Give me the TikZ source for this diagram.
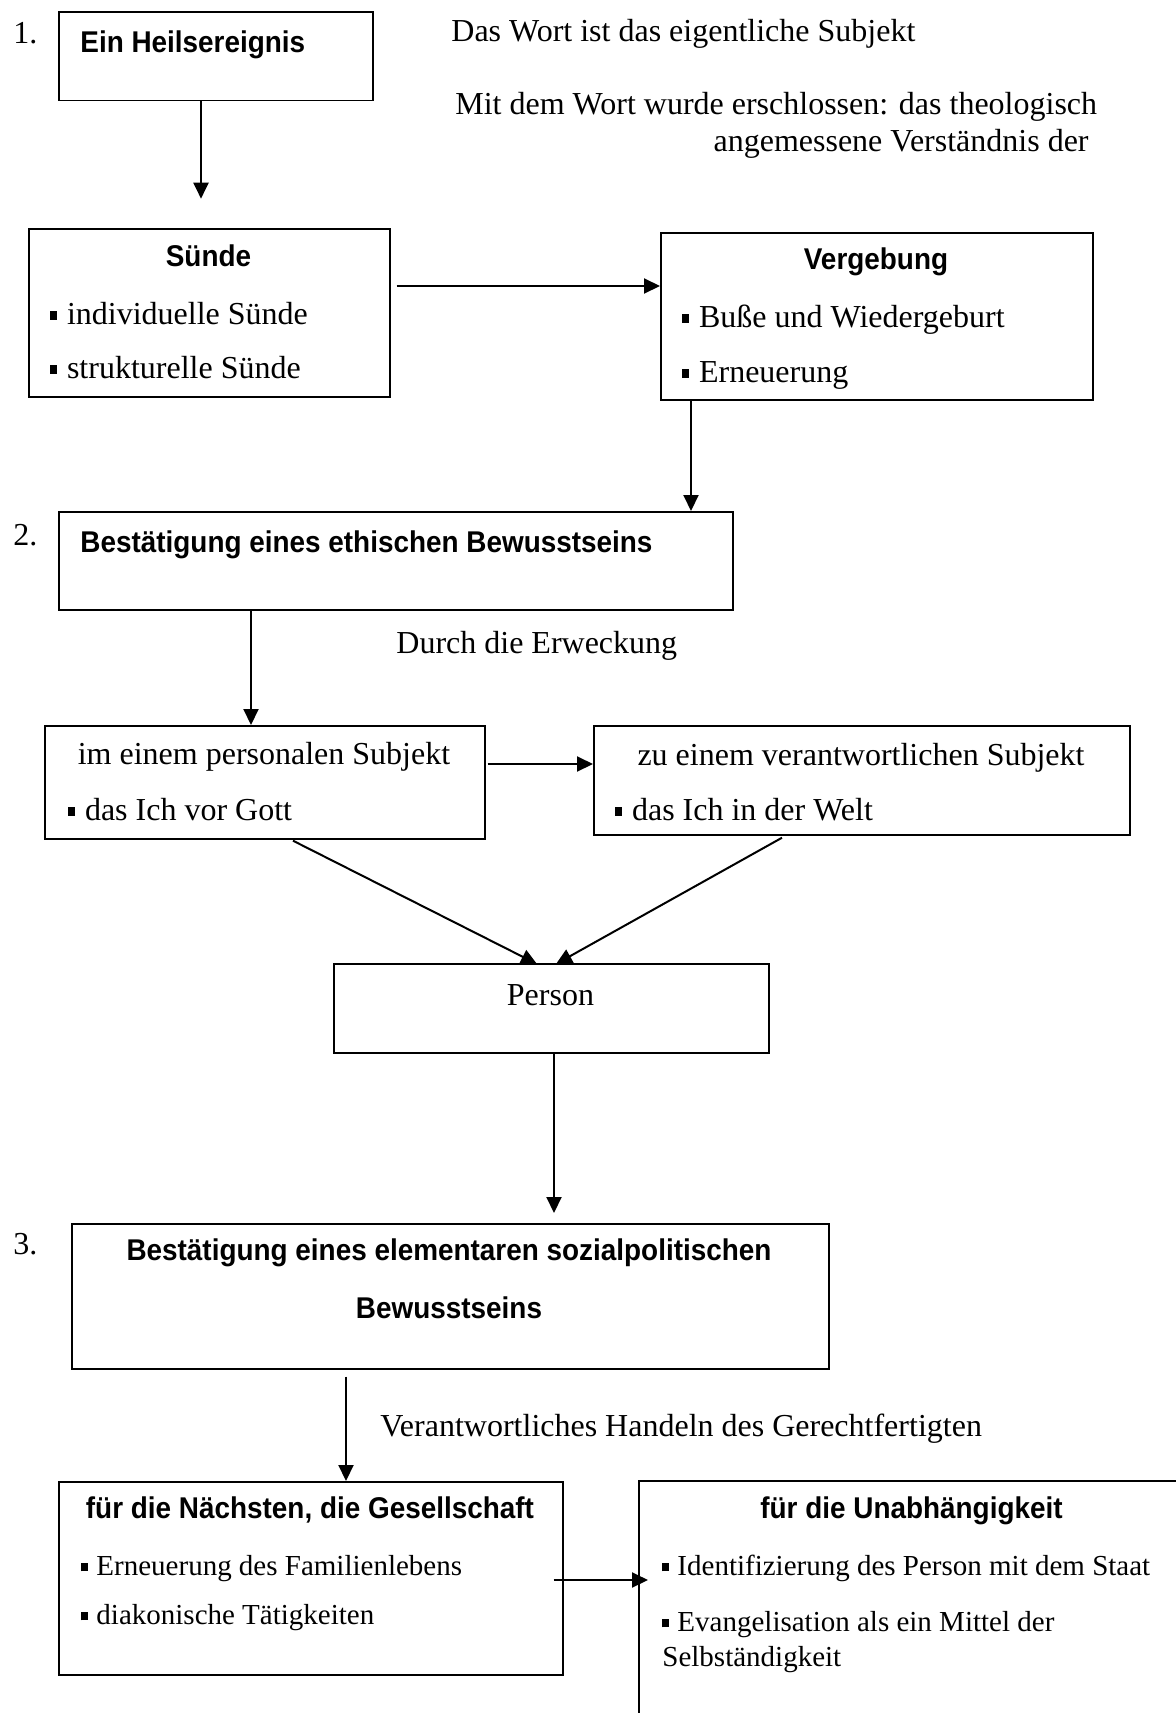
\documentclass[tikz,border=0pt]{standalone}
\usepackage{fontspec}
\setmainfont{Liberation Serif}
\newfontfamily\hfont[FakeStretch=0.93]{Liberation Sans}
\usetikzlibrary{arrows.meta,calc}
\newcommand\bul{\rule[0.13em]{0.22em}{0.27em}\hspace{0.3em}}
\begin{document}
\begin{tikzpicture}[x=0.5pt,y=-0.5pt,
  box/.style={draw,line width=0.85pt,inner sep=0,anchor=north west},
  boxline/.style={line width=0.85pt},
  txt/.style={inner sep=0,font=\fontsize{16}{19}\selectfont},
  stxt/.style={inner sep=0,font=\fontsize{14.5}{17}\selectfont},
  hd/.style={inner sep=0,font=\hfont\bfseries\fontsize{15}{18}\selectfont},
  arr/.style={line width=1pt,-{Triangle[length=8pt,width=7.5pt]}}]
\useasboundingbox[fill=white] (0,0) rectangle (1176,1713);
% boxes
\node[box,minimum width=157pt,minimum height=44.25pt] (box1) at (58,11) {};
\node[box,minimum width=180.5pt,minimum height=84pt] (suende) at (28,228) {};
\node[box,minimum width=216pt,minimum height=83.5pt] (verg) at (660,232) {};
\node[box,minimum width=337pt,minimum height=49pt] (box2) at (58,511) {};
\node[box,minimum width=220pt,minimum height=56.5pt] (pers) at (44,725) {};
\node[box,minimum width=268pt,minimum height=54.5pt] (verant) at (593,725) {};
\node[box,minimum width=217.5pt,minimum height=44.5pt] (person) at (333,963) {};
\node[box,minimum width=378.5pt,minimum height=72.5pt] (box3) at (71,1223) {};
\node[box,minimum width=252pt,minimum height=96.5pt] (naech) at (58,1481) {};
\node[inner sep=0,anchor=north west,minimum width=268.5pt,minimum height=116pt] (unab) at (639,1481) {};
\draw[boxline] (unab.north east) -- (unab.north west) -- (unab.south west);
% numbers
\node[txt,anchor=base west] (n1) at (13,43) {1.};
\node[txt,anchor=base west] (n2) at (13,545) {2.};
\node[txt,anchor=base west] (n3) at (13,1254) {3.};
% texts
\node[hd,anchor=base west] (t1) at (80,52) {Ein Heilsereignis};
\node[txt,anchor=base west] (w1) at (451,41) {Das Wort ist das eigentliche Subjekt};
\node[txt,anchor=base west] (w2) at (455,114) {Mit dem Wort wurde erschlossen: das theologisch};
\node[txt,anchor=base east] (w3) at (1089,151) {angemessene Verständnis der};
\node[hd,anchor=base] (ts) at (208.5,266) {Sünde};
\node[txt,anchor=base west] (s1) at (50,324) {\bul individuelle Sünde};
\node[txt,anchor=base west] (s2) at (50,378) {\bul strukturelle Sünde};
\node[hd,anchor=base] (tv) at (876,269) {Vergebung};
\node[txt,anchor=base west] (v1) at (682,327) {\bul Buße und Wiedergeburt};
\node[txt,anchor=base west] (v2) at (682,382) {\bul Erneuerung};
\node[hd,anchor=base west] (t2) at (80,552) {Bestätigung eines ethischen Bewusstseins};
\node[txt,anchor=base west] (d1) at (396,653) {Durch die Erweckung};
\node[txt,anchor=base] (p0) at (264,764) {im einem personalen Subjekt};
\node[txt,anchor=base west] (p1) at (68,820) {\bul das Ich vor Gott};
\node[txt,anchor=base] (r0) at (861,765) {zu einem verantwortlichen Subjekt};
\node[txt,anchor=base west] (r1) at (615,820) {\bul das Ich in der Welt};
\node[txt,anchor=base] (pp) at (550.5,1005) {Person};
\node[hd,anchor=base] (t3a) at (449,1260) {Bestätigung eines elementaren sozialpolitischen};
\node[hd,anchor=base] (t3b) at (449,1318) {Bewusstseins};
\node[txt,anchor=base west] (h1) at (380,1436) {Verantwortliches Handeln des Gerechtfertigten};
\node[hd,anchor=base] (tn) at (310,1518) {für die Nächsten, die Gesellschaft};
\node[stxt,anchor=base west] (n1a) at (81,1575) {\bul Erneuerung des Familienlebens};
\node[stxt,anchor=base west] (n1b) at (81,1624) {\bul diakonische Tätigkeiten};
\node[hd,anchor=base] (tu) at (911.5,1518) {für die Unabhängigkeit};
\node[stxt,anchor=base west] (u1) at (662,1575) {\bul Identifizierung des Person mit dem Staat};
\node[stxt,anchor=base west] (u2) at (662,1631) {\bul Evangelisation als ein Mittel der};
\node[stxt,anchor=base west] (u3) at (662,1666) {Selbständigkeit};
% connectors
\draw[arr] ($(box1.south west)+(143,0)$) -- ++(0,97.5);
\draw[arr] ($(suende.north east)+(6,58)$) coordinate (c2) -- (c2 -| verg.west);
\draw[arr] ($(verg.south west)+(31,0)$) coordinate (c3) -- (c3 |- box2.north);
\draw[arr] ($(box2.south west)+(193,0)$) coordinate (c4) -- (c4 |- pers.north);
\draw[arr] ($(pers.north east)+(2,39)$) coordinate (c5) -- (c5 -| verant.west);
\draw[arr] ($(pers.south west)+(249,1)$) -- ($(person.north west)+(204,1)$);
\draw[arr] ($(verant.south west)+(189,2)$) -- ($(person.north west)+(223,1)$);
\draw[arr] ($(person.south west)+(221,0)$) -- ($(box3.north west)+(483,-10)$);
\draw[arr] ($(box3.south west)+(275,7)$) coordinate (c9) -- (c9 |- naech.north);
\draw[arr] ($(naech.north east)+(-10,99)$) coordinate (c10) -- ($(c10 -| unab.west)+(9,0)$);
\end{tikzpicture}
\end{document}
